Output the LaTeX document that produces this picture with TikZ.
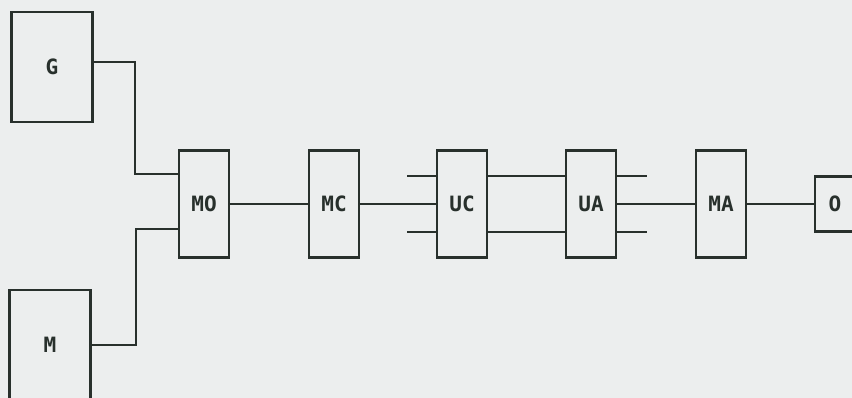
\documentclass[tikz,border=0pt]{standalone}
\usepackage{fontspec}
\setmonofont{DejaVu Sans Mono}[BoldFont={DejaVu Sans Mono Bold}]
\usepackage{tikz}
\usetikzlibrary{positioning}
\definecolor{chpaper}{RGB}{236,238,238}
\definecolor{chink}{RGB}{40,48,44}
\tikzset{
  blk/.style={
    draw=chink, line width=1.5pt, inner sep=0pt,
    font=\fontsize{12}{14}\selectfont\ttfamily\bfseries, text=chink
  },
  big/.style={blk, minimum width=1.62cm, minimum height=2.2cm},
  unit/.style={blk, minimum width=1cm, minimum height=2.14cm},
  wire/.style={draw=chink, line width=1.1pt}
}

\begin{document}
\begin{tikzpicture}[x=0.02cm,y=-0.02cm]
  \clip (0,0) rectangle (852,398);
  \fill[chpaper] (0,0) rectangle (852,398);

  \node[big] (gen) at (52,67) {G};
  \node[big] (mod) at (50,345) {M};
  \node[unit] (mo) at (204,204) {MO};
  \node[unit] (mc) at (334,204) {MC};
  \node[unit] (uc) at (462,204) {UC};
  \node[unit] (ua) at (591,204) {UA};
  \node[unit] (ma) at (721,204) {MA};
  \node[blk, minimum width=0.8cm, minimum height=1.1cm] (out) at (835,204) {O};

  \draw[wire] ([yshift=0.1cm]gen.east) -- ++(41,0) |- ([yshift=0.6cm]mo.west);
  \draw[wire] (mod.east) -- ++(44,0) |- ([yshift=-0.5cm]mo.west);
  \draw[wire] (mo.east) -- (mc.west);
  \draw[wire] (mc.east) -- (uc.west);
  \draw[wire] ([yshift=0.56cm]uc.west) -- ++(-29,0);
  \draw[wire] ([yshift=-0.56cm]uc.west) -- ++(-29,0);
  \draw[wire] ([yshift=0.56cm]uc.east) -- ([yshift=0.56cm]ua.west);
  \draw[wire] ([yshift=-0.56cm]uc.east) -- ([yshift=-0.56cm]ua.west);
  \draw[wire] ([yshift=0.56cm]ua.east) -- ++(30,0);
  \draw[wire] ([yshift=-0.56cm]ua.east) -- ++(30,0);
  \draw[wire] (ua.east) -- (ma.west);
  \draw[wire] (ma.east) -- (out.west);
\end{tikzpicture}
\end{document}
